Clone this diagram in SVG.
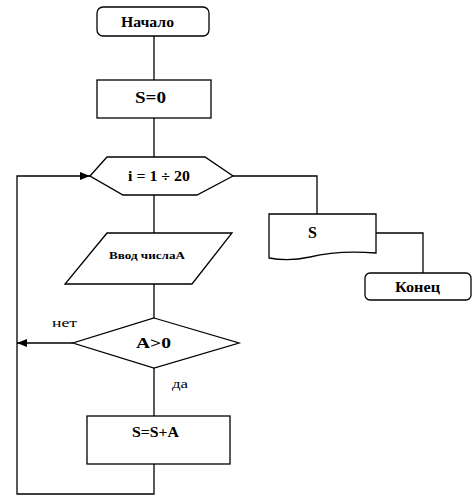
<svg xmlns="http://www.w3.org/2000/svg" width="475" height="502" viewBox="0 0 475 502">
<defs>
<style>
.s{fill:#fff;stroke:#000;stroke-width:1.3}
.c{fill:none;stroke:#000;stroke-width:1.3}
text{font-family:'Liberation Serif','Times New Roman',serif;fill:#000;text-anchor:middle}
.b{font-weight:bold}
.n{font-size:12px}
</style>
<marker id="ar" markerWidth="10" markerHeight="8" refX="10" refY="4" orient="auto" markerUnits="userSpaceOnUse">
<path d="M0,0 L10,4 L0,8 z" fill="#000"/>
</marker>
</defs>
<rect width="475" height="502" fill="#fff"/>
<g id="connectors">
<path class="c" d="M154,36 V80"/>
<path class="c" d="M154,118 V157"/>
<path class="c" d="M154,195 V233"/>
<path class="c" d="M154,284 V318"/>
<path class="c" d="M154,368 V416"/>
<path class="c" d="M154,464 V494 H17 V176 H90" marker-end="url(#ar)"/>
<path class="c" d="M73,343 H17" marker-end="url(#ar)"/>
<path class="c" d="M233,176 H317 V214"/>
<path class="c" d="M376,233 H423 V273"/>
<text class="n" x="64.5" y="327" textLength="25" lengthAdjust="spacingAndGlyphs">нет</text>
<text class="n" x="180" y="388" textLength="16" lengthAdjust="spacingAndGlyphs">да</text>
</g>
<g id="start">
<rect class="s" x="97" y="7" width="112" height="29" rx="6"/>
<text class="b" x="147.5" y="27" font-size="14" textLength="53" lengthAdjust="spacingAndGlyphs">Начало</text>
</g>
<g id="init">
<rect class="s" x="97" y="80" width="114" height="38"/>
<text class="b" x="150.5" y="102.5" font-size="16" textLength="31" lengthAdjust="spacingAndGlyphs">S=0</text>
</g>
<g id="loop">
<polygon class="s" points="90,176 107,157 205,157 233,176 197,195 123,195"/>
<text class="b" x="159" y="181" font-size="15" textLength="62" lengthAdjust="spacingAndGlyphs">i = 1 ÷ 20</text>
</g>
<g id="input">
<polygon class="s" points="107,233 232,233 192,284 65,284"/>
<text class="b" x="147" y="259" font-size="11" textLength="76" lengthAdjust="spacingAndGlyphs">Ввод числаA</text>
</g>
<g id="cond">
<polygon class="s" points="154,318 239,343 154,368 73,343"/>
<text class="b" x="153.5" y="348" font-size="15" textLength="35" lengthAdjust="spacingAndGlyphs">A&gt;0</text>
</g>
<g id="sum">
<rect class="s" x="87" y="416" width="143" height="48"/>
<text class="b" x="155.5" y="437" font-size="14" textLength="47" lengthAdjust="spacingAndGlyphs">S=S+A</text>
</g>
<g id="output">
<path class="s" d="M269,214 H376 V253 C350,251 330,252 310,257 C292,261 280,260 269,258 Z"/>
<text class="b" x="312.5" y="238" font-size="16">S</text>
</g>
<g id="end">
<rect class="s" x="365" y="273" width="106" height="27" rx="5"/>
<text class="b" x="417.5" y="292" font-size="14" textLength="45" lengthAdjust="spacingAndGlyphs">Конец</text>
</g>
</svg>
